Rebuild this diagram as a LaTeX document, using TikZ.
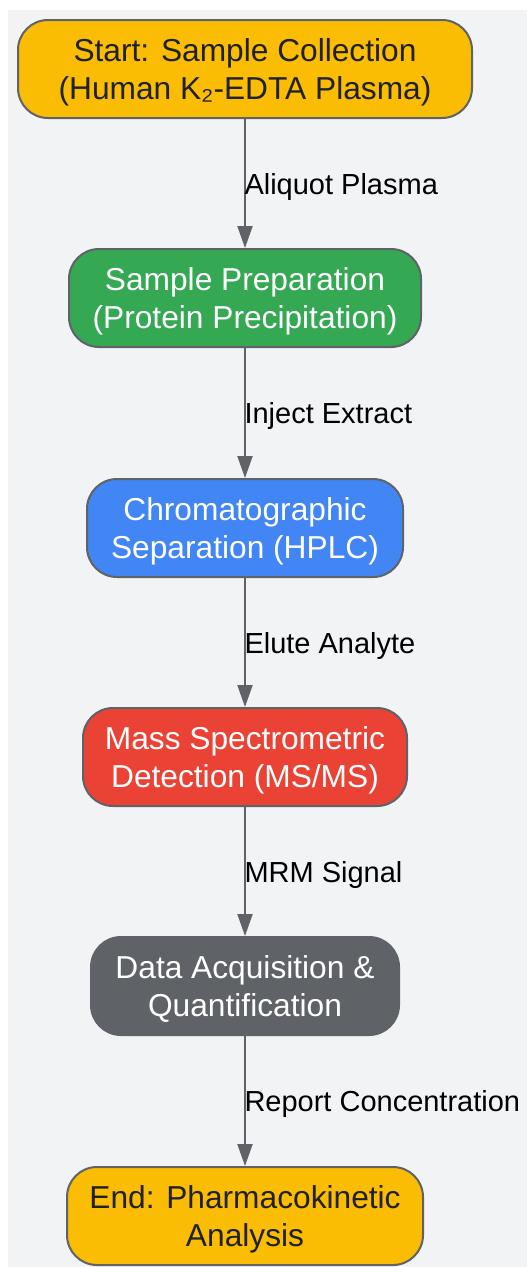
\documentclass[tikz,border=0pt]{standalone}
\usepackage{fontspec}
\setmainfont{Liberation Sans}
\usetikzlibrary{arrows.meta}
\definecolor{bg}{HTML}{F1F3F4}
\definecolor{edgec}{HTML}{5F6368}
\definecolor{ylw}{HTML}{FBBC04}
\definecolor{grn}{HTML}{34A853}
\definecolor{blu}{HTML}{4285F4}
\definecolor{rd}{HTML}{EA4335}
\definecolor{gry}{HTML}{5F6368}
\definecolor{ink}{HTML}{202124}
\begin{document}
\begin{tikzpicture}[x=1pt,y=-1pt,
 box/.style={draw=edgec, line width=2pt, rounded corners=30pt, minimum height=98pt, inner sep=0pt},
 txt/.style={align=center, inner sep=0pt, yshift=-3pt, font=\fontsize{31.7}{38}\selectfont},
 flow/.style={draw=edgec, line width=2pt, -{Triangle[length=22pt,width=15pt]}},
 lbl/.style={anchor=west, inner sep=0pt, xshift=-1.5pt, yshift=-3pt, font=\fontsize{29}{34}\selectfont, text=black}]
\useasboundingbox (0,0) rectangle (527,1267);
\fill[bg] (8,10) rectangle (527,1267);
\node[box, fill=ylw, minimum width=454pt, label={[txt, text=ink]center:{Start: Sample Collection\\(Human K₂-EDTA Plasma)}}] (n1) at (245,69) {};
\node[box, fill=grn, minimum width=352pt, label={[txt, text=white]center:{Sample Preparation\\(Protein Precipitation)}}] (n2) at (245,298) {};
\node[box, fill=blu, minimum width=316pt, label={[txt, text=white]center:{Chromatographic\\Separation (HPLC)}}] (n3) at (245,528) {};
\node[box, fill=rd, minimum width=324pt, label={[txt, text=white]center:{Mass Spectrometric\\Detection (MS/MS)}}] (n4) at (245,757) {};
\node[box, fill=gry, draw=gry, minimum width=308pt, label={[txt, text=white]center:{Data Acquisition \&\\Quantification}}] (n5) at (245,986) {};
\node[box, fill=ylw, minimum width=356pt, label={[txt, text=ink]center:{End: Pharmacokinetic\\Analysis}}] (n6) at (245,1216) {};
\draw[flow] (n1) -- node[lbl] {Aliquot Plasma} (n2);
\draw[flow] (n2) -- node[lbl] {Inject Extract} (n3);
\draw[flow] (n3) -- node[lbl] {Elute Analyte} (n4);
\draw[flow] (n4) -- node[lbl] {MRM Signal} (n5);
\draw[flow] (n5) -- node[lbl] {Report Concentration} (n6);
\end{tikzpicture}
\end{document}
